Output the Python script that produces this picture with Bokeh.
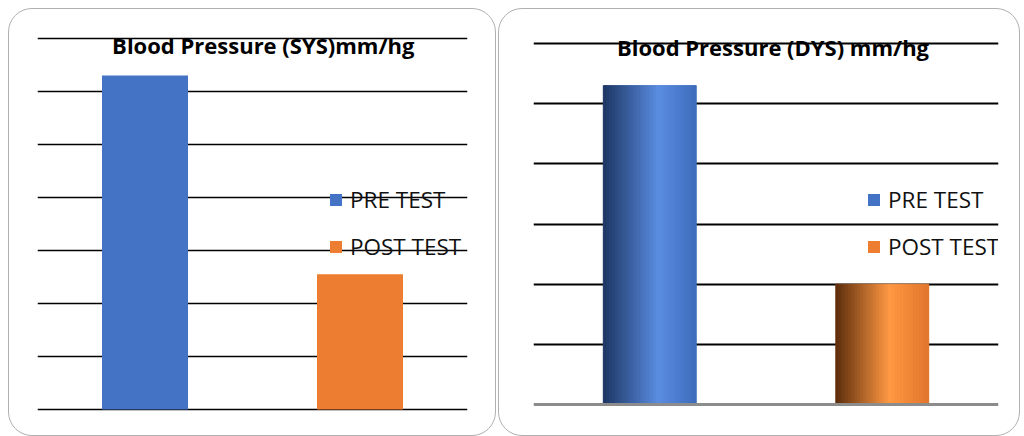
from bokeh.plotting import figure
from bokeh.layouts import row
from bokeh.models import Range1d, FactorRange, FixedTicker, Legend, LegendItem, Label, ColumnDataSource, Span
from bokeh.transform import dodge
from bokeh.embed import file_html
from bokeh.resources import INLINE

# ---- data ----
categories = ["PRE TEST", "POST TEST"]
sys_values = [126, 51]
dys_values = [106, 40]
sys_ticks = [0, 20, 40, 60, 80, 100, 120, 140]
dys_ticks = [20, 40, 60, 80, 100, 120]
title_sys = "Blood Pressure (SYS)mm/hg"
title_dys = "Blood Pressure (DYS) mm/hg"
flat_colors = ["#4472C4", "#ED7D31"]

TFONT = "Open Sans"
LFONT = "Open Sans"
BORDER_STYLE = {"border": "1px solid #b0b0b0", "border-radius": "24px"}


def make_legend(renderers_idx, loc):
    items = [LegendItem(label=c, renderers=[r], index=i) for c, (r, i) in zip(categories, renderers_idx)]
    return Legend(items=items, location=loc, padding=0, margin=0,
                  border_line_color=None, background_fill_alpha=0,
                  glyph_width=15, glyph_height=15, label_standoff=7,
                  label_text_font=LFONT, label_text_font_size="22.5px",
                  label_text_color="#111111", spacing=16, label_height=20)


FIG_KW = dict(height=428, output_backend="svg", toolbar_location=None,
              x_axis_location=None, y_axis_location=None,
              min_border_top=27, min_border_bottom=26)

# ---- left chart: systolic ----
p1 = figure(width=488, x_range=FactorRange(*categories), y_range=Range1d(-0.75, 140.75),
            min_border_left=28, min_border_right=30, **FIG_KW)
p1.outline_line_color = None
p1.background_fill_color = None
p1.border_fill_color = None
p1.xgrid.visible = False
p1.ygrid.ticker = FixedTicker(ticks=sys_ticks)
p1.ygrid.grid_line_color = "#000000"
p1.ygrid.grid_line_width = 1.5
src1 = ColumnDataSource(dict(cat=categories, val=sys_values, color=flat_colors))
r1 = p1.vbar(x="cat", top="val", width=0.4, fill_color="color", line_color=None, source=src1)
p1.add_layout(Label(x=1.05, y=137.6, text=title_sys, text_align="center", text_baseline="alphabetic",
                    text_font=TFONT, text_font_style="bold", text_font_size="22px", text_color="#000000"))
p1.add_layout(make_legend([(r1, 0), (r1, 1)], (291, 149)))
p1.styles = BORDER_STYLE

# ---- right chart: diastolic (shaded cylinders) ----
p2 = figure(width=522, x_range=FactorRange(*categories), y_range=Range1d(-2.33, 122.33),
            min_border_left=34, min_border_right=23, **FIG_KW)
p2.outline_line_color = None
p2.background_fill_color = None
p2.border_fill_color = None
p2.xgrid.visible = False
p2.ygrid.ticker = FixedTicker(ticks=dys_ticks)
p2.ygrid.grid_line_color = "#000000"
p2.ygrid.grid_line_width = 2


def hex2rgb(h):
    h = h.lstrip("#")
    return [int(h[i:i + 2], 16) for i in (0, 2, 4)]


def shade(stops, t):
    for (t0, c0), (t1, c1) in zip(stops, stops[1:]):
        if t0 <= t <= t1:
            f = (t - t0) / (t1 - t0)
            a, b = hex2rgb(c0), hex2rgb(c1)
            return "#%02x%02x%02x" % tuple(round(x + (y - x) * f) for x, y in zip(a, b))
    return stops[-1][1]


blue_stops = [(0.0, "#1d3561"), (0.6, "#5b8de2"), (1.0, "#3e6cbb")]
orange_stops = [(0.0, "#5a2c0c"), (0.58, "#ff9944"), (1.0, "#e2762c")]
N = 30
bar_w = 0.4
sw = bar_w / N
src2_base = ColumnDataSource(dict(cat=categories, val=dys_values, color=["#3f69b4", "#d9772f"]))
p2.vbar(x="cat", top="val", width=bar_w, fill_color="color", line_color=None, source=src2_base)
for i in range(N):
    t = (i + 0.5) / N
    off = -bar_w / 2 + sw * (i + 0.5)
    cols = [shade(blue_stops, t), shade(orange_stops, t)]
    s = ColumnDataSource(dict(cat=categories, val=dys_values, color=cols))
    p2.vbar(x=dodge("cat", off, range=p2.x_range), top="val", width=sw,
            fill_color="color", line_color="color", line_width=0.8, source=s)

p2.add_layout(Span(location=0, dimension="width", line_color="#8c8c8c", line_width=3))
p2.add_layout(Label(x=1.03, y=118.9, text=title_dys, text_align="center", text_baseline="alphabetic",
                    text_font=TFONT, text_font_style="bold", text_font_size="22px", text_color="#000000"))
leg_src = ColumnDataSource(dict(cat=categories, val=[0, 0], color=flat_colors))
r_leg = p2.vbar(x="cat", top="val", width=0.0, fill_color="color", line_color=None, source=leg_src)
p2.add_layout(make_legend([(r_leg, 0), (r_leg, 1)], (333, 149)))
p2.styles = BORDER_STYLE

layout = row(p1, p2, spacing=2)
layout.margin = (8, 0, 0, 8)

open("out.html", "w").write(file_html(layout, INLINE))
